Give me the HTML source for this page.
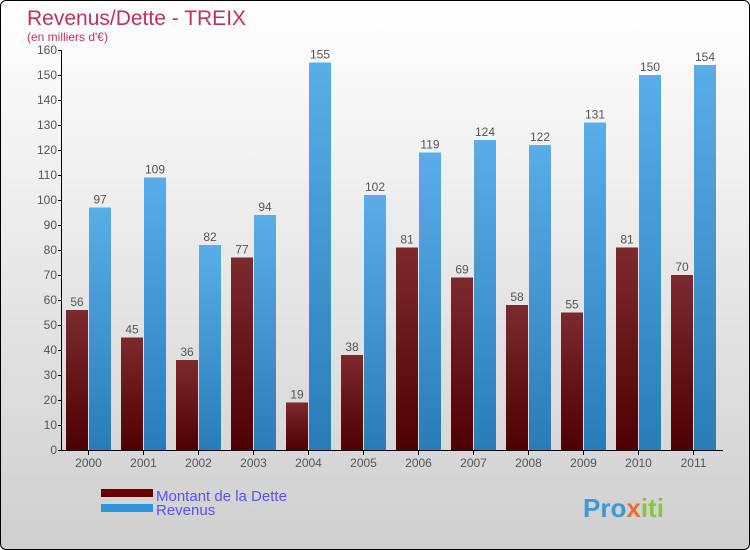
<!DOCTYPE html>
<html><head><meta charset="utf-8"><style>
body{margin:0}
#c{width:748px;height:548px;border:1px solid #000;border-radius:6px;background:linear-gradient(#ffffff,#cfcfcf);position:relative;overflow:hidden;font-family:"Liberation Sans",sans-serif}
</style></head><body>
<div id="c">
<svg id="s" width="748" height="548">
<defs>
<linearGradient id="gd" x1="0" y1="0" x2="0" y2="1"><stop offset="0" stop-color="#7d2a2e"/><stop offset="1" stop-color="#4f0000"/></linearGradient>
<linearGradient id="gr" x1="0" y1="0" x2="0" y2="1"><stop offset="0" stop-color="#5aaee8"/><stop offset="1" stop-color="#2a7cb8"/></linearGradient>
</defs>
<text x="26" y="24" font-size="21" fill="#c0305f">Revenus/Dette - TREIX</text>
<text x="26" y="40" font-size="12" fill="#c0305f">(en milliers d'€)</text>
<g id="ax"></g><g id="bars"></g>
<rect x="100" y="488" width="52" height="8" fill="#660000"/>
<rect x="100" y="503" width="52" height="8" fill="#2e94dc"/>
<text x="155" y="500" font-size="15" fill="#5555ee">Montant de la Dette</text>
<text x="155" y="514" font-size="15" fill="#5555ee">Revenus</text>
<text x="582" y="516" font-size="26" font-weight="bold" fill="#3a9ad9">Pro<tspan fill="#e8702a">x</tspan><tspan fill="#8bc34a">iti</tspan></text>
</svg></div>
<script>
const years=["2000","2001","2002","2003","2004","2005","2006","2007","2008","2009","2010","2011"];
const dette=[56,45,36,77,19,38,81,69,58,55,81,70];
const revenus=[97,109,82,94,155,102,119,124,122,131,150,154];
const yTicks=[0,10,20,30,40,50,60,70,80,90,100,110,120,130,140,150,160];
const NS="http://www.w3.org/2000/svg";
const y=v=>449-v*2.5, xc=i=>87.5+i*55;
function mk(t,a,p){const e=document.createElementNS(NS,t);for(const k in a)e.setAttribute(k,a[k]);p.appendChild(e);return e;}
const ax=document.getElementById('ax'),bg=document.getElementById('bars');
let l=mk('line',{x1:60.5,y1:49,x2:60.5,y2:450,stroke:'#000'},ax);


l=mk('line',{x1:60,y1:449.5,x2:722,y2:449.5,stroke:'#000'},ax);


yTicks.forEach(v=>{
 mk('line',{x1:57,x2:61,y1:y(v)+.5,y2:y(v)+.5,stroke:'#000'},ax);
 const t=mk('text',{x:56,y:y(v)+4,'text-anchor':'end','font-size':12,fill:'#555'},ax);t.textContent=v;
 
 
});
years.forEach((yr,i)=>{
 const c=xc(i);
 mk('line',{x1:c,x2:c,y1:450,y2:454,stroke:'#000'},ax);
 const t=mk('text',{x:c,y:466,'text-anchor':'middle','font-size':12,fill:'#555'},ax);t.textContent=yr;
 
 
 [[dette[i],c-22.5,'url(#gd)','bar-dette-'],[revenus[i],c+0.5,'url(#gr)','bar-revenus-']].forEach(([v,x,f,n])=>{
  const r=mk('rect',{x:x,y:y(v),width:22,height:v*2.5,fill:f},bg);
  
  
  const lt=mk('text',{x:x+11,y:y(v)-4,'text-anchor':'middle','font-size':12,fill:'#555'},bg);lt.textContent=v;
  
  
 });
});
</script>
</body></html>
